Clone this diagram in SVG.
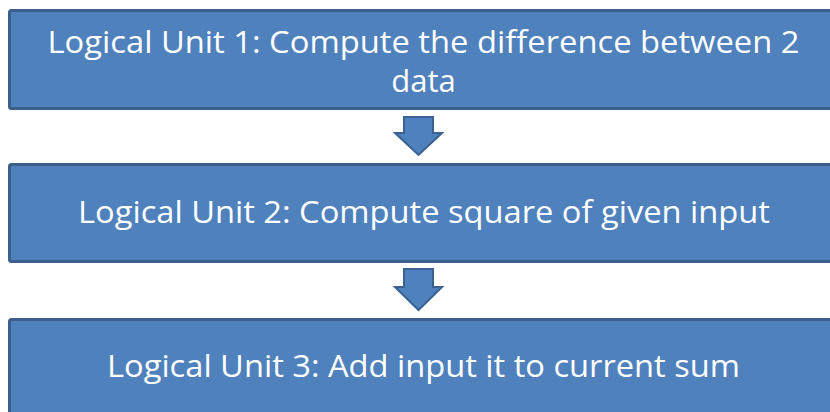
<svg xmlns="http://www.w3.org/2000/svg" width="830" height="412" viewBox="0 0 830 412">
<style>
.box{fill:#4f81bd;stroke:#3b5f8c;stroke-width:3}
.arr{fill:#4f81bd;stroke:#3a6194;stroke-width:2;stroke-linejoin:miter}
.t{font-family:"Open Sans","Liberation Sans",sans-serif;font-size:31px;fill:#ffffff;text-anchor:middle}
</style>
<rect width="830" height="412" fill="#ffffff"/>
<g id="unit1">
<rect class="box" x="9.5" y="10.5" width="840" height="98" rx="2"/>
<text class="t" x="423.5" y="53" textLength="752" lengthAdjust="spacingAndGlyphs">Logical Unit 1: Compute the difference between 2</text>
<text class="t" x="423.5" y="92">data</text>
</g>
<g id="unit2">
<rect class="box" x="9.5" y="164.5" width="840" height="97" rx="2"/>
<text class="t" x="424" y="223" textLength="692" lengthAdjust="spacingAndGlyphs">Logical Unit 2: Compute square of given input</text>
</g>
<g id="unit3">
<rect class="box" x="9.5" y="319.5" width="840" height="100" rx="2"/>
<text class="t" x="423.5" y="377" textLength="633" lengthAdjust="spacingAndGlyphs">Logical Unit 3: Add input it to current sum</text>
</g>
<g id="connectors">
<polygon class="arr" points="404,117 433,117 433,133 442,133 418.5,155 395,133 404,133"/>
<polygon class="arr" points="404,269 433,269 433,287 442,287 418.5,310 395,287 404,287"/>
</g>
</svg>
